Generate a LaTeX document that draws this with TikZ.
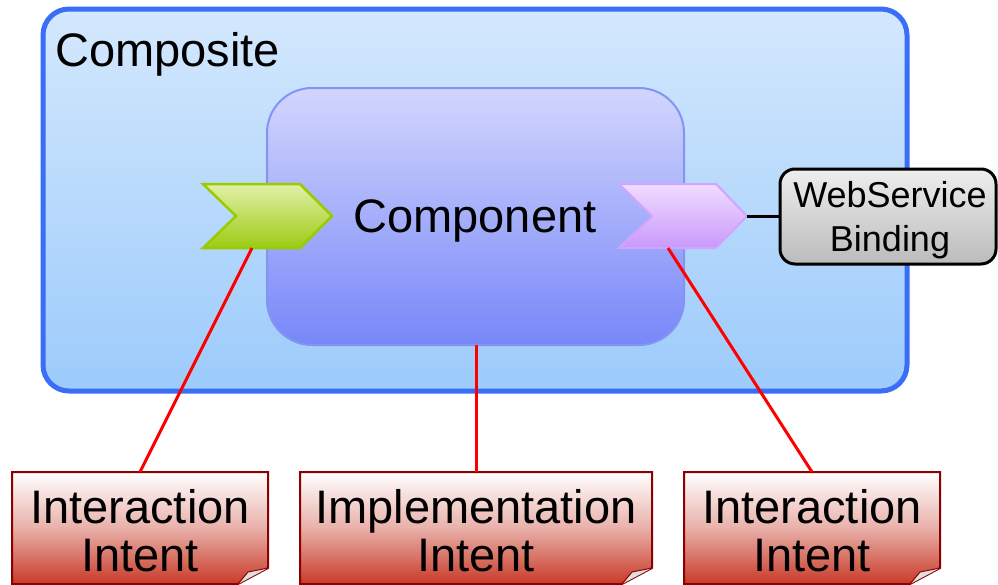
\documentclass[tikz,border=0pt]{standalone}
\usepackage{fontspec}
\setmainfont{Liberation Sans}
\definecolor{compBorder}{HTML}{3A6EF6}
\definecolor{compTop}{HTML}{D4E8FD}
\definecolor{compBot}{HTML}{9CCBFB}
\definecolor{cmpBorder}{HTML}{8394F5}
\definecolor{cmpTop}{HTML}{D2D6FC}
\definecolor{cmpBot}{HTML}{7787F9}
\definecolor{svcBorder}{HTML}{99CC00}
\definecolor{svcTop}{HTML}{E2F0A8}
\definecolor{svcBot}{HTML}{9CCB14}
\definecolor{refBorder}{HTML}{D0A4FF}
\definecolor{refTop}{HTML}{F0DCFF}
\definecolor{refBot}{HTML}{C999FC}
\definecolor{bindTop}{HTML}{EEEEEE}
\definecolor{bindBot}{HTML}{BBBBBB}
\definecolor{noteBorder}{HTML}{8B0000}
\definecolor{noteBot}{HTML}{C83A28}
\definecolor{intentLine}{HTML}{FF0000}
\tikzset{
  bigtext/.style={font=\fontsize{47}{50}\selectfont, inner sep=0pt},
  bindtext/.style={font=\fontsize{36}{44}\selectfont, align=center, inner sep=0pt},
  notetext/.style={font=\fontsize{47}{48}\selectfont, align=center, inner sep=0pt},
  notebox/.style={draw=noteBorder, line width=2pt, top color=white, bottom color=noteBot, middle color=noteBot!40!white},
  intent/.style={draw=intentLine, line width=3pt},
}
\newcommand{\intentnote}[3]{% left x, right x, name
  \draw[notebox] (#1,472) -- (#2,472) -- (#2,568) -- (#2-30,584) -- (#1,584) -- cycle;
  \fill[gray!25] (#2-30,584) -- (#2,568) -- (#2-20,572) -- cycle;
  \draw[noteBorder, line width=1pt] (#2-30,584) -- (#2-20,572) -- (#2,568);
  \coordinate (#3) at ({(#1+#2)/2},472);
}
\begin{document}
\begin{tikzpicture}[x=1pt,y=-1pt]
\useasboundingbox (0,0) rectangle (998,584);

% composite
\draw[line width=5pt, draw=compBorder, rounded corners=26pt, top color=compTop, bottom color=compBot]
  (43,9) rectangle (907,391);
\node[bigtext, anchor=base west] (compositeLabel) at (55,66) {Composite};

% component
\draw[line width=2pt, draw=cmpBorder, rounded corners=45pt, top color=cmpTop, bottom color=cmpBot]
  (267,88) rectangle (684,345);
\node[bigtext] (componentLabel) at (475,221) {Component};
\coordinate (cmpBottom) at (476,345);

% service (green chevron)
\draw[line width=2.5pt, draw=svcBorder, top color=svcTop, bottom color=svcBot, line join=miter]
  (203,184) -- (300,184) -- (332,216) -- (300,248) -- (203,248) -- (236,216) -- cycle;
\coordinate (svcPort) at (252,248);

% reference (pink chevron)
\draw[line width=2pt, draw=refBorder, top color=refTop, bottom color=refBot, line join=miter]
  (619,184) -- (716,184) -- (747,216) -- (716,248) -- (619,248) -- (652,216) -- cycle;
\coordinate (refTip) at (747,216);
\coordinate (refPort) at (668,248);

% binding
\draw[line width=3pt, rounded corners=15pt, top color=bindTop, bottom color=bindBot]
  (780,169) rectangle (996,264);
\coordinate (bindWest) at (780,216);
\node[bindtext] (bindLabel) at (890,220) {WebService\\Binding};
\draw[line width=3pt] (refTip) -- (bindWest);

% intents
\intentnote{12}{268}{noteA}
\intentnote{300}{652}{noteB}
\intentnote{684}{940}{noteC}
\node[notetext] (noteAText) at (140,531) {Interaction\\Intent};
\node[notetext] (noteBText) at (476,531) {Implementation\\Intent};
\node[notetext] (noteCText) at (812,531) {Interaction\\Intent};

\draw[intent] (svcPort) -- (noteA);
\draw[intent] (cmpBottom) -- (noteB);
\draw[intent] (refPort) -- (noteC);
\end{tikzpicture}
\end{document}
